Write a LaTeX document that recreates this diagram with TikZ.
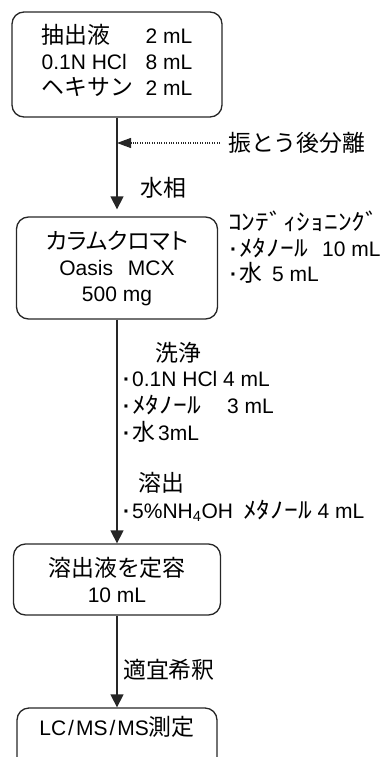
\documentclass[tikz,border=0pt]{standalone}
\usepackage{fontspec}
\setmainfont{Liberation Sans}
\newfontfamily\jp[Scale=1.09]{Noto Sans CJK JP}
\newfontfamily\jpp[Scale=1.09,RawFeature=+palt]{Noto Sans CJK JP}
\newfontfamily\jph[Scale=1.09,FakeStretch=1.2]{Noto Sans CJK JP}
\usetikzlibrary{arrows.meta}
\newcommand{\bul}{\makebox[11pt][c]{\bfseries ·}}
\begin{document}
\begin{tikzpicture}[x=1pt,y=-1pt,
  every node/.style={font=\fontsize{21}{26}\selectfont, text=black},
  box/.style={draw=black!85, line width=1.3pt, rounded corners=12pt, inner sep=0pt, align=center},
  txt/.style={inner sep=0pt, anchor=base west},
  arr/.style={draw=black!85, line width=1.3pt, -{Triangle[length=13pt,width=13pt]}},
  dotarr/.style={draw=black!85, line width=1.1pt, dash pattern=on 1pt off 1.4pt, -{Triangle[length=14pt,width=10pt]}}]
\useasboundingbox (0,0) rectangle (385,757);
\clip (0,0) rectangle (385,757);

% boxes
\node[box, minimum width=210pt, minimum height=105pt] (b1) at (117,64.5) {};
\node[inner sep=0pt, align=left] (b1t) at (117,60.5)
  {\makebox[104pt][l]{\jp 抽出液}2 mL\\\makebox[104pt][l]{0.1N HCl}8 mL\\\makebox[104pt][l]{\jp ヘキサン}2 mL};
\node[box, minimum width=201pt, minimum height=102pt] (b2) at (117,268)
  {{\jpp カラムクロマト}\\Oasis\hspace{15pt}MCX\\500 mg};
\node[box, minimum width=207pt, minimum height=71pt] (b3) at (117,579.5)
  {{\jp 溶出液を定容}\\10 mL};
\node[box, minimum width=200pt, minimum height=64pt] (b4) at (117,740) {};
\node[inner sep=0pt] (b4t) at (117,727) {LC\kern2pt/\kern2pt MS\kern2pt/\kern2pt MS{\jp 測定}};

% connectors
\draw[arr, shorten >=7pt] (b1.south) -- (b2.north);
\draw[arr] (b2.south) -- (b3.north);
\draw[arr] (b3.south) -- (b4.north);

\coordinate (m1) at (117,143);
\coordinate (d0) at (220,143);
\draw[dotarr] (d0) -- (m1);
\node[txt] (sep) at (228,151) {\jp 振とう後分離};
\node[txt] (aq) at (140,196) {\jp 水相};

% conditioning
\node[txt] (c0) at (228,230) {\jph ｺﾝﾃﾞｨｼｮﾆﾝｸﾞ};
\node[txt] (c1) at (228,256) {\makebox[94pt][l]{\bul{\jph ﾒﾀﾉｰﾙ}}10 mL};
\node[txt] (c2) at (228,281) {\bul\makebox[33pt][l]{\jp 水}5 mL};

% washing
\node[txt] (w0) at (155,361) {\jp 洗浄};
\node[txt] (w1) at (121,386) {\bul 0.1N HCl 4 mL};
\node[txt] (w2) at (121,413) {\makebox[106pt][l]{\bul{\jph ﾒﾀﾉｰﾙ}}3 mL};
\node[txt] (w3) at (121,440) {\bul\makebox[26pt][l]{\jp 水}3mL};

% elution
\node[txt] (e0) at (138,491) {\jp 溶出};
\node[txt] (e1) at (121,518) {\makebox[122pt][l]{\bul 5\%NH\textsubscript{4}OH}{\jph ﾒﾀﾉｰﾙ} 4 mL};

\node[txt] (dl) at (123,678) {\jp 適宜希釈};
\end{tikzpicture}
\end{document}
